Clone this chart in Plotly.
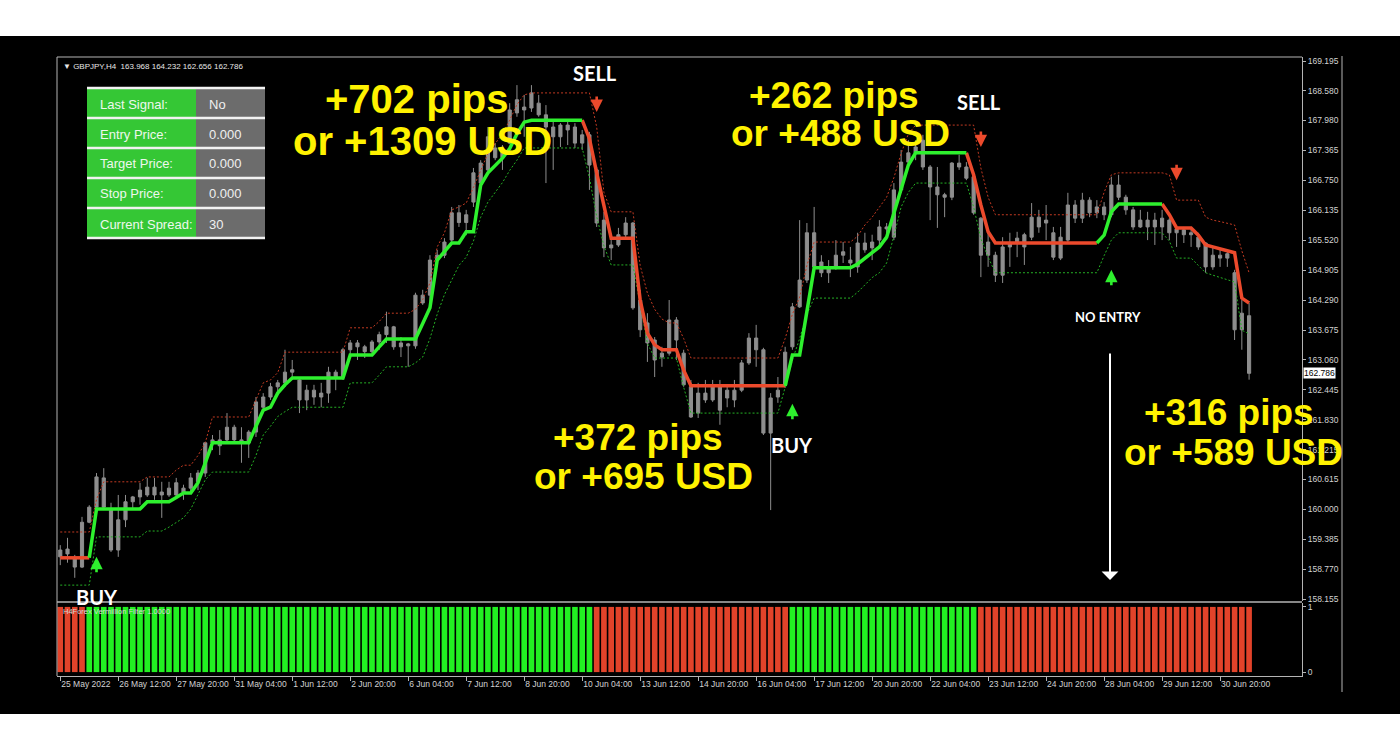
import plotly.graph_objects as go

# ---------------- data ----------------
bars = list(range(165))

opens = [
 159.16,159.08,158.99,158.81,159.73,160.04,160.64,159.98,159.16,159.78,
 160.15,160.25,160.29,160.45,160.35,160.29,160.29,160.43,160.43,160.56,
 160.74,161.36,161.42,161.42,161.68,161.42,161.36,161.58,162.09,162.30,
 162.51,162.59,162.81,162.65,162.24,162.44,162.30,162.38,162.81,162.71,
 163.27,163.41,163.33,163.23,163.43,163.58,163.74,163.33,163.39,163.35,
 164.39,164.39,165.11,165.21,165.52,166.08,165.88,166.30,166.69,166.96,
 167.41,167.21,167.51,168.13,168.25,168.23,168.33,168.09,167.84,167.64,
 167.88,167.84,167.51,167.68,166.96,165.93,165.36,165.42,165.63,165.87,
 164.29,163.82,163.47,163.12,163.20,163.88,163.20,162.51,161.97,162.38,
 162.24,162.51,162.28,162.44,162.44,163.00,163.51,163.27,161.56,162.30,
 162.55,163.33,164.15,164.70,165.67,165.07,164.85,164.97,165.21,165.11,
 164.97,165.46,165.36,165.52,165.79,165.58,166.55,167.12,167.31,167.57,
 167.02,166.61,166.45,166.40,167.10,167.02,166.82,165.97,165.21,165.21,
 164.80,165.38,165.46,165.38,165.58,165.99,165.87,165.67,165.15,165.52,
 166.24,165.97,166.34,166.08,166.20,166.04,166.65,166.40,166.14,165.79,
 165.93,165.79,165.79,165.93,165.67,165.73,165.63,165.58,165.46,164.97,
 165.21,165.15,164.85,163.68,163.968]
highs = [
 159.26,159.41,159.06,159.84,160.08,160.74,160.84,160.13,160.29,160.29,
 160.27,160.54,160.64,160.64,160.56,160.56,160.64,160.50,160.74,160.80,
 161.38,161.52,161.62,161.97,161.73,161.68,161.62,162.30,162.38,162.59,
 162.65,163.27,163.06,162.71,162.55,162.55,162.59,162.92,162.86,163.31,
 163.47,163.47,163.37,163.47,163.64,164.05,163.76,163.53,163.41,164.44,
 164.50,165.21,165.32,165.56,166.20,166.24,166.14,167.00,167.16,167.84,
 167.51,167.47,168.33,168.70,168.50,168.70,168.50,168.29,167.98,167.92,
 167.98,167.92,167.78,167.74,167.02,166.10,165.52,165.77,165.99,165.89,
 164.50,164.02,163.53,163.33,164.29,163.94,163.27,162.65,162.59,162.65,
 162.65,162.65,162.55,162.65,163.06,163.61,163.78,163.31,162.38,162.71,
 163.33,164.23,165.93,165.87,166.20,165.21,165.11,165.52,165.48,165.38,
 165.67,165.67,165.63,165.93,165.87,166.69,167.37,167.57,167.57,167.68,
 167.06,167.02,166.49,167.12,167.27,167.12,166.86,165.99,165.67,165.28,
 165.58,165.67,165.69,165.67,166.28,166.14,166.24,165.79,165.79,166.49,
 166.34,166.49,166.40,166.34,166.30,166.82,166.86,166.45,166.20,166.14,
 166.10,166.08,166.14,165.97,165.79,165.79,165.79,165.67,165.48,165.38,
 165.32,165.32,164.91,164.29,164.232]
lows = [
 158.85,158.90,158.59,158.79,159.71,159.98,159.98,159.12,159.02,159.63,
 160.02,160.09,160.25,160.19,159.82,160.25,160.25,160.19,160.35,160.39,
 160.66,161.21,161.11,161.36,161.36,160.95,161.05,161.48,162.03,162.24,
 162.38,162.51,162.65,161.97,162.03,162.14,162.09,162.18,162.44,162.65,
 163.17,163.06,163.10,163.20,163.27,163.41,163.27,163.12,162.92,163.29,
 164.19,164.19,165.01,165.15,165.46,165.79,165.62,166.20,166.61,166.90,
 167.16,166.96,167.49,168.05,167.64,168.15,168.05,166.69,166.96,167.43,
 167.47,167.41,167.37,166.55,165.79,165.17,165.11,165.38,165.56,164.09,
 163.53,163.02,162.71,162.92,163.15,163.06,162.51,161.87,161.87,162.18,
 162.20,161.73,162.09,162.09,162.40,162.96,162.92,161.52,159.98,162.18,
 162.49,163.27,164.13,164.64,164.95,164.76,164.64,164.91,165.05,164.76,
 164.85,165.26,165.11,165.38,165.52,165.52,166.49,167.06,167.16,166.96,
 165.93,165.77,165.99,166.34,166.96,166.75,166.04,164.76,164.97,164.66,
 164.64,164.97,165.17,165.01,165.52,165.67,165.52,165.11,165.11,165.46,
 165.87,165.87,165.99,165.97,165.93,165.99,166.34,166.04,165.73,165.77,
 165.52,165.42,165.52,165.52,165.38,165.46,165.38,165.32,164.85,164.91,
 164.97,164.97,163.47,163.27,162.656]
closes = [
 159.02,159.18,158.81,159.73,160.04,160.66,160.04,159.16,159.78,160.15,
 160.25,160.39,160.45,160.29,160.29,160.43,160.54,160.35,160.64,160.74,
 161.36,161.42,161.30,161.68,161.42,161.36,161.58,162.20,162.30,162.51,
 162.59,162.81,162.86,162.24,162.44,162.30,162.38,162.81,162.71,163.27,
 163.41,163.33,163.23,163.43,163.58,163.74,163.33,163.41,163.35,164.39,
 164.23,165.11,165.21,165.48,166.08,165.88,166.04,166.90,167.10,167.64,
 167.21,167.37,168.19,168.40,168.19,168.54,168.09,167.84,167.64,167.88,
 167.78,167.51,167.68,167.06,165.87,165.36,165.42,165.63,165.87,164.13,
 163.68,163.41,163.06,163.20,163.88,163.47,162.55,161.89,162.38,162.24,
 162.51,162.03,162.44,162.24,163.00,163.51,163.27,161.56,162.28,162.44,
 163.22,164.15,164.70,165.67,164.97,164.85,164.97,165.21,165.28,165.05,
 165.46,165.32,165.48,165.79,165.75,166.55,167.12,167.31,167.43,167.02,
 166.61,166.45,166.40,167.10,167.02,166.79,166.08,165.21,165.48,164.80,
 165.38,165.46,165.56,165.63,165.99,165.79,165.93,165.17,165.58,166.24,
 165.97,166.34,166.08,166.20,166.04,166.65,166.40,166.14,165.79,165.93,
 165.79,165.93,165.97,165.67,165.75,165.63,165.67,165.38,164.97,165.21,
 165.15,165.24,163.68,164.02,162.786]

filter_line = [
 159.00,159.00,159.00,159.00,159.00,160.00,160.00,160.00,160.00,160.00,
 160.00,160.00,160.15,160.15,160.15,160.15,160.24,160.33,160.33,160.54,
 160.95,161.36,161.36,161.36,161.36,161.36,161.36,161.70,162.03,162.09,
 162.38,162.55,162.69,162.69,162.69,162.69,162.69,162.69,162.69,162.69,
 163.16,163.16,163.16,163.16,163.33,163.49,163.49,163.49,163.49,163.49,
 163.81,164.13,165.11,165.28,165.46,165.46,165.69,165.69,166.65,166.90,
 167.05,167.20,167.40,167.70,167.94,167.98,167.98,167.98,167.98,167.98,
 167.98,167.98,167.98,167.60,166.90,166.20,165.56,165.56,165.56,165.56,
 164.29,163.61,163.37,163.27,163.27,163.27,162.85,162.53,162.53,162.53,
 162.53,162.53,162.53,162.53,162.53,162.53,162.53,162.53,162.53,162.53,
 162.53,163.16,163.16,164.08,164.95,164.95,164.95,164.95,164.95,164.95,
 165.03,165.15,165.28,165.38,165.58,166.08,166.55,167.06,167.31,167.31,
 167.31,167.31,167.31,167.31,167.31,167.31,166.86,166.24,165.69,165.46,
 165.46,165.46,165.46,165.46,165.46,165.46,165.46,165.46,165.46,165.46,
 165.46,165.46,165.46,165.46,165.62,166.10,166.26,166.26,166.26,166.26,
 166.26,166.26,166.26,166.04,165.77,165.77,165.77,165.62,165.42,165.38,
 165.34,165.30,165.26,164.33,164.23]
# G = up (green), R = down (red)
line_state = ("RRRRRGGGGG" "GGGGGGGGGG" "GGGGGGGGGG" "GGGGGGGGGG" "GGGGGGGGGG"
              "GGGGGGGGGG" "GGGGGGGGGG" "GGGRRRRRRR" "RRRRRRRRRR" "RRRRRRRRRR"
              "RGGGGGGGGG" "GGGGGGGGGG" "GGGGGGRRRR" "RRRRRRRRRR" "RRRRGGGGGG"
              "GGGRRRRRRR" "RRRRR")
upper_band = [
 159.53,159.53,159.53,159.53,159.53,160.20,160.56,160.56,160.56,160.56,
 160.56,160.56,160.66,160.66,160.66,160.66,160.80,160.90,160.90,161.10,
 161.36,161.89,161.89,161.89,161.89,161.89,161.89,162.24,162.59,162.65,
 162.80,163.22,163.22,163.22,163.22,163.22,163.22,163.22,163.22,163.22,
 163.72,163.72,163.72,163.72,163.85,164.02,164.02,164.02,164.02,164.10,
 164.30,164.64,165.38,165.67,166.14,166.20,166.28,166.60,166.96,167.30,
 167.50,167.70,167.98,168.30,168.50,168.54,168.54,168.54,168.54,168.54,
 168.54,168.54,168.54,168.54,167.84,166.50,166.10,166.10,166.10,166.10,
 165.00,164.43,164.10,163.90,163.82,163.82,163.50,163.10,163.10,163.10,
 163.10,163.10,163.10,163.10,163.10,163.10,163.10,163.10,163.10,163.10,
 163.50,164.00,164.35,165.00,165.48,165.48,165.48,165.48,165.48,165.48,
 165.60,165.83,165.99,166.20,166.40,166.80,167.30,167.70,167.88,167.88,
 167.88,167.88,167.88,167.88,167.88,167.88,167.88,167.00,166.40,166.04,
 166.04,166.04,166.04,166.04,166.04,166.04,166.04,166.04,166.04,166.04,
 166.04,166.04,166.04,166.04,166.50,166.86,166.90,166.90,166.90,166.90,
 166.90,166.90,166.90,166.86,166.34,166.34,166.34,166.34,165.99,165.93,
 165.90,165.86,165.83,165.30,164.85]
lower_band = [
 158.44,158.44,158.44,158.44,158.44,159.43,159.43,159.43,159.43,159.43,
 159.43,159.43,159.55,159.55,159.55,159.63,159.73,159.82,160.00,160.30,
 160.60,160.76,160.76,160.76,160.76,160.76,160.76,161.10,161.52,161.70,
 161.90,162.00,162.09,162.09,162.09,162.09,162.09,162.09,162.09,162.09,
 162.59,162.59,162.59,162.59,162.75,162.92,162.92,162.92,162.92,163.00,
 163.12,163.50,164.00,164.40,164.70,165.00,165.17,165.50,165.99,166.30,
 166.50,166.70,166.95,167.16,167.41,167.41,167.41,167.41,167.41,167.41,
 167.41,167.41,167.41,166.80,166.00,165.40,165.01,165.01,165.01,165.01,
 164.20,163.40,163.10,163.10,163.10,163.10,162.50,161.97,161.97,161.97,
 161.97,161.97,161.97,161.97,161.97,161.97,161.97,161.97,161.97,161.97,
 162.50,163.06,163.50,164.00,164.33,164.33,164.33,164.33,164.33,164.33,
 164.45,164.60,164.75,164.85,165.05,165.60,166.20,166.50,166.69,166.69,
 166.69,166.69,166.69,166.69,166.69,166.69,166.20,165.55,165.17,164.85,
 164.85,164.85,164.85,164.85,164.85,164.85,164.85,164.85,164.85,164.85,
 164.85,164.85,164.85,164.85,165.20,165.52,165.67,165.67,165.67,165.67,
 165.67,165.67,165.67,165.50,165.15,165.15,165.15,165.00,164.85,164.80,
 164.75,164.70,164.66,163.67,163.60]
hist_state = ("RRRRGGGGGG" "GGGGGGGGGG" "GGGGGGGGGG" "GGGGGGGGGG" "GGGGGGGGGG"
              "GGGGGGGGGG" "GGGGGGGGGG" "GGGGRRRRRR" "RRRRRRRRRR" "RRRRRRRRRR"
              "RGGGGGGGGG" "GGGGGGGGGG" "GGGGGGGRRR" "RRRRRRRRRR" "RRRRRRRRRR"
              "RRRRRRRRRR" "RRRRR")

sell_bars = [74, 127, 154]
sell_prices = [168.15, 167.43, 166.75]
buy_bars = [5, 101, 145]
buy_prices = [159.02, 162.16, 164.91]

price_ticks = [169.195, 168.580, 167.980, 167.365, 166.750, 166.135, 165.520, 164.905,
               164.290, 163.675, 163.060, 162.445, 161.830, 161.215, 160.615, 160.000,
               159.385, 158.770, 158.155]
time_tick_bars = [0, 8, 16, 24, 32, 40, 48, 56, 64, 72, 80, 88, 96, 104, 112, 120, 128, 136, 144, 152, 160]
time_tick_labels = ["25 May 2022", "26 May 12:00", "27 May 20:00", "31 May 04:00", "1 Jun 12:00",
                    "2 Jun 20:00", "6 Jun 04:00", "7 Jun 12:00", "8 Jun 20:00", "10 Jun 04:00",
                    "13 Jun 12:00", "14 Jun 20:00", "16 Jun 04:00", "17 Jun 12:00", "20 Jun 20:00",
                    "22 Jun 04:00", "23 Jun 12:00", "24 Jun 20:00", "28 Jun 04:00", "29 Jun 12:00",
                    "30 Jun 20:00"]

table_labels = ["Last Signal:", "Entry Price:", "Target Price:", "Stop Price:", "Current Spread:"]
table_values = ["No", "0.000", "0.000", "0.000", "30"]

profit_labels = [("+702 pips", "or +1309 USD"), ("+262 pips", "or +488 USD"),
                 ("+372 pips", "or +695 USD"), ("+316 pips", "or +589 USD")]

# ---------------- layout helpers (pixel geometry) ----------------
W, H = 1400, 750
PL, PR, PT, PB = 57, 1302, 57, 676
def PX(x):
    return (x - PL) / (PR - PL)
def PY(y):
    return (PB - y) / (PB - PT)

GREEN = "#2ef02e"
RED = "#ec4a2c"
GRAY = "#8e8e8e"
FRAME = "#b4b4b4"

n = len(bars)
green_y = [filter_line[i] if (line_state[i] == "G" or (i + 1 < n and line_state[i + 1] == "G")) else None for i in range(n)]
red_y = [filter_line[i] if (line_state[i] == "R" or (i + 1 < n and line_state[i + 1] == "R")) else None for i in range(n)]

fig = go.Figure()
fig.add_trace(go.Candlestick(
    x=bars, open=opens, high=highs, low=lows, close=closes,
    increasing=dict(line=dict(color=GRAY, width=1), fillcolor=GRAY),
    decreasing=dict(line=dict(color=GRAY, width=1), fillcolor=GRAY),
    whiskerwidth=0, xaxis="x", yaxis="y", hoverinfo="skip"))
fig.add_trace(go.Scatter(x=bars, y=upper_band, mode="lines",
                         line=dict(color="#c23a22", width=1, dash="2px,2px"), xaxis="x", yaxis="y"))
fig.add_trace(go.Scatter(x=bars, y=lower_band, mode="lines",
                         line=dict(color="#25b025", width=1, dash="2px,2px"), xaxis="x", yaxis="y"))
fig.add_trace(go.Scatter(x=bars, y=red_y, mode="lines",
                         line=dict(color=RED, width=3.5), xaxis="x", yaxis="y"))
fig.add_trace(go.Scatter(x=bars, y=green_y, mode="lines",
                         line=dict(color=GREEN, width=3.5), xaxis="x", yaxis="y"))

fig.add_trace(go.Bar(x=bars, y=[1 for s in hist_state],
                     marker=dict(color=[("#22f022" if s == "G" else "#e2432a") for s in hist_state],
                                 line=dict(width=0)),
                     width=0.78, xaxis="x2", yaxis="y2", hoverinfo="skip"))

xr = [-0.45, 171.3]
fig.update_layout(
    width=W, height=H,
    margin=dict(l=PL, r=W - PR, t=PT, b=H - PB),
    paper_bgcolor="#000000", plot_bgcolor="#000000",
    showlegend=False, hovermode=False, boxgap=0.38,
    xaxis=dict(domain=[0, 1], range=xr, anchor="y", showticklabels=False, showgrid=False,
               zeroline=False, showline=False, rangeslider=dict(visible=False)),
    xaxis2=dict(domain=[0, 1], range=xr, matches="x", anchor="y2", showgrid=False, zeroline=False,
                tickmode="array", tickvals=time_tick_bars, ticktext=time_tick_labels, tickangle=0,
                ticks="outside", ticklen=4, tickcolor=FRAME, ticklabelposition="outside right",
                tickfont=dict(family="Liberation Sans", size=8.5, color="#d2d2d2"),
                showline=True, linecolor=FRAME, linewidth=1),
    yaxis=dict(domain=[PY(601), 1], range=[158.114, 169.277], side="right", showgrid=False,
               zeroline=False, tickmode="array", tickvals=price_ticks,
               ticktext=[f"{v:.3f}" for v in price_ticks], ticks="outside", ticklen=3,
               tickcolor=FRAME, tickfont=dict(family="Liberation Sans", size=8.5, color="#d2d2d2"),
               showline=True, linecolor=FRAME, linewidth=1),
    yaxis2=dict(domain=[0, PY(603)], range=[-0.06, 1.06], side="right", showgrid=False,
                zeroline=False, tickmode="array", tickvals=[0, 1], ticktext=["0", "1"],
                ticks="outside", ticklen=3, tickcolor=FRAME,
                tickfont=dict(family="Liberation Sans", size=8.5, color="#d2d2d2"),
                showline=True, linecolor=FRAME, linewidth=1),
)

shapes = []
# white bands top and bottom
shapes.append(dict(type="rect", xref="paper", yref="paper", x0=PX(-5), x1=PX(W + 5), y0=PY(0 - 5), y1=PY(36),
                   fillcolor="#ffffff", line=dict(width=0), layer="above"))
shapes.append(dict(type="rect", xref="paper", yref="paper", x0=PX(-5), x1=PX(W + 5), y0=PY(714), y1=PY(H + 5),
                   fillcolor="#ffffff", line=dict(width=0), layer="above"))
# frame lines
for (x0, y0, x1, y1) in [(57, 57, 1302, 57), (57, 57, 57, 676), (1342, 56, 1342, 692)]:
    shapes.append(dict(type="line", xref="paper", yref="paper", x0=PX(x0), y0=PY(y0), x1=PX(x1), y1=PY(y1),
                       line=dict(color=FRAME, width=1), layer="above"))
shapes.append(dict(type="line", xref="paper", yref="paper", x0=PX(57), y0=PY(602), x1=PX(1302), y1=PY(602),
                   line=dict(color=FRAME, width=1.5), layer="above"))
# info table
rows_y = [88, 118, 148, 178, 208, 238]
for k in range(5):
    shapes.append(dict(type="rect", xref="paper", yref="paper", x0=PX(87), x1=PX(196),
                       y0=PY(rows_y[k]), y1=PY(rows_y[k + 1]), fillcolor="#35c735", line=dict(width=0), layer="above"))
    shapes.append(dict(type="rect", xref="paper", yref="paper", x0=PX(196), x1=PX(265),
                       y0=PY(rows_y[k]), y1=PY(rows_y[k + 1]), fillcolor="#6c6c6c", line=dict(width=0), layer="above"))
for yy in rows_y:
    shapes.append(dict(type="line", xref="paper", yref="paper", x0=PX(87), x1=PX(265), y0=PY(yy), y1=PY(yy),
                       line=dict(color="#f2f2f2", width=2.5), layer="above"))
fig.update_layout(shapes=shapes)

ann = []
ann.append(dict(xref="paper", yref="paper", x=PX(61), y=PY(66), xanchor="left", yanchor="middle",
                text="▼ GBPJPY,H4  163.968 164.232 162.656 162.786", showarrow=False,
                font=dict(family="Liberation Sans", size=8, color="#e6e6e6")))
ann.append(dict(xref="paper", yref="paper", x=PX(61), y=PY(611), xanchor="left", yanchor="middle",
                text="H4Forex Vermillion Filter 1.0000", showarrow=False,
                font=dict(family="Liberation Sans", size=7.5, color="#d8d8d8")))
for k in range(5):
    yc = (rows_y[k] + rows_y[k + 1]) / 2 + 1
    ann.append(dict(xref="paper", yref="paper", x=PX(98), y=PY(yc), xanchor="left", yanchor="middle",
                    text=table_labels[k], showarrow=False,
                    font=dict(family="Liberation Sans", size=13, color="#eef7ee")))
    ann.append(dict(xref="paper", yref="paper", x=PX(207), y=PY(yc), xanchor="left", yanchor="middle",
                    text=table_values[k], showarrow=False,
                    font=dict(family="Liberation Sans", size=13, color="#f0f0f0")))

profit_pos = [((416, 99), (422, 141)), ((834, 95), (840, 133)),
              ((638, 437), (643, 476)), ((1229, 412), (1233, 452))]
profit_size = [40, 37, 37, 37]
for (l1, l2), (p1, p2), fs in zip(profit_labels, profit_pos, profit_size):
    for txt, (xx, yy) in ((l1, p1), (l2, p2)):
        ann.append(dict(xref="paper", yref="paper", x=PX(xx), y=PY(yy), xanchor="center", yanchor="middle",
                        text=f"<b>{txt}</b>", showarrow=False,
                        font=dict(family="Liberation Sans", size=fs, color="#fff200")))

for txt, (xx, yy), sz in [("SELL", (595, 73), 20), ("SELL", (979, 102), 20), ("BUY", (97, 597), 20),
                          ("BUY", (792, 445), 20), ("NO ENTRY", (1108, 317), 13)]:
    ann.append(dict(xref="paper", yref="paper", x=PX(xx), y=PY(yy), xanchor="center", yanchor="middle",
                    text=f"<b>{txt}</b>", showarrow=False,
                    font=dict(family="Lato", size=sz, color="#ffffff")))

for b, p in zip(sell_bars, sell_prices):
    ann.append(dict(xref="x", yref="y", x=b, y=p, ax=0, ay=-17, showarrow=True, arrowhead=2,
                    arrowsize=0.95, arrowwidth=2.6, arrowcolor=RED, text=""))
for b, p in zip(buy_bars, buy_prices):
    ann.append(dict(xref="x", yref="y", x=b, y=p, ax=0, ay=17, showarrow=True, arrowhead=2,
                    arrowsize=0.95, arrowwidth=2.6, arrowcolor=GREEN, text=""))
# NO ENTRY long white arrow
ann.append(dict(xref="paper", yref="paper", x=PX(1110), y=PY(580), ax=0, ay=-228, showarrow=True,
                arrowhead=1, arrowsize=1.4, arrowwidth=2, arrowcolor="#ffffff", text=""))
# current price tag
ann.append(dict(xref="paper", yref="y", x=PX(1303), y=162.786, xanchor="left", yanchor="middle",
                text="162.786", showarrow=False, bgcolor="#ffffff", borderpad=0,
                font=dict(family="Liberation Sans", size=8.5, color="#000000")))
fig.update_layout(annotations=ann)

fig.write_html("out.html", config={"displayModeBar": False},
               post_script="document.body.style.margin='0';document.body.style.overflow='hidden';")
